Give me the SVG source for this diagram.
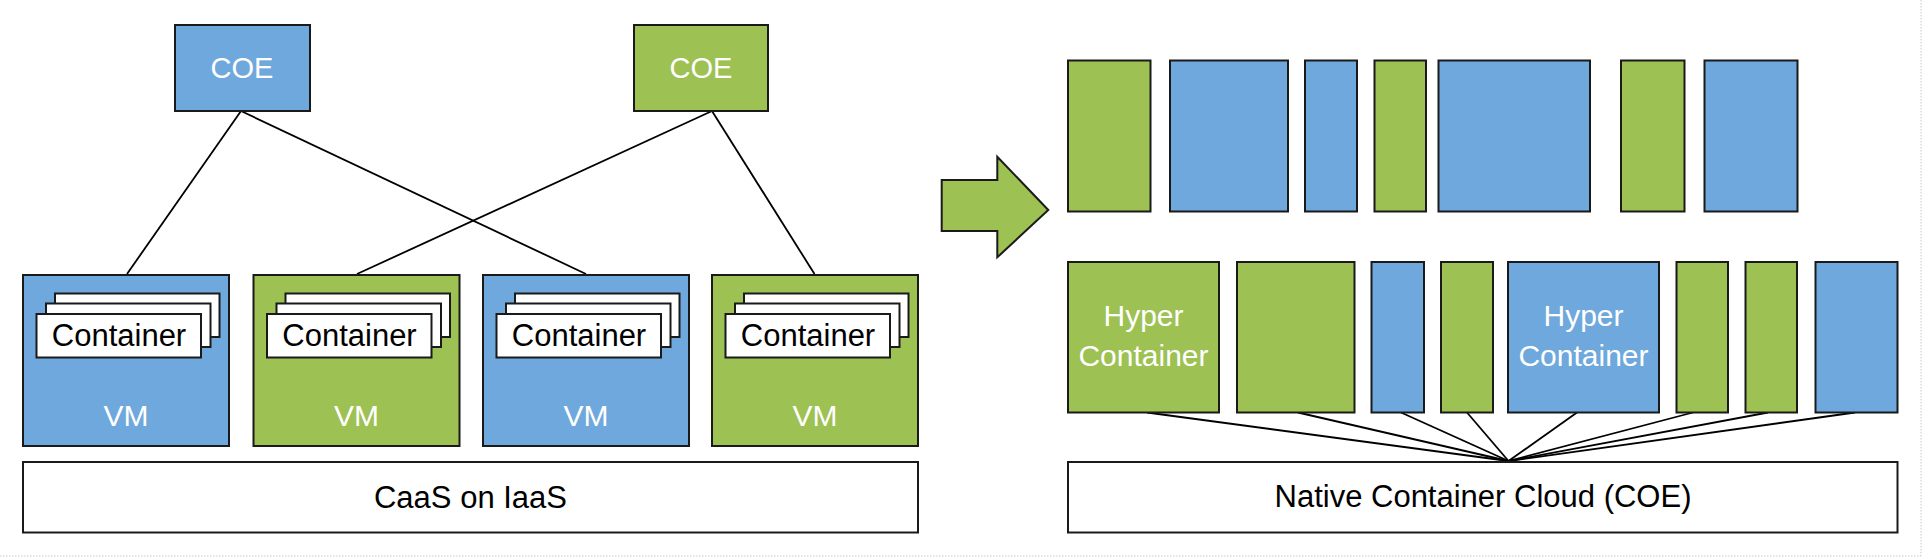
<svg xmlns="http://www.w3.org/2000/svg" width="1922" height="557" viewBox="0 0 1922 557">
<style>
.bl{fill:#6FA8DC;stroke:#1a1a1a;stroke-width:2}
.gr{fill:#9DC153;stroke:#1a1a1a;stroke-width:2}
.wh{fill:#ffffff;stroke:#1a1a1a;stroke-width:2}
.ln{stroke:#000;stroke-width:1.8;fill:none}
text{font-family:"Liberation Sans",Arial,sans-serif;text-anchor:middle}
.tw{fill:#ffffff}
.tb{fill:#000000}
</style>
<rect x="0" y="0" width="1922" height="557" fill="#ffffff"/>
<g id="frame" stroke="#c8c8c8" stroke-width="1" stroke-dasharray="1.5 1.5">
<line x1="0" y1="556" x2="1921" y2="556"/>
<line x1="1921" y1="0" x2="1921" y2="556"/>
</g>
<g id="connectors">
<line class="ln" x1="241" y1="111" x2="127" y2="274"/>
<line class="ln" x1="241" y1="111" x2="586" y2="274"/>
<line class="ln" x1="712" y1="111" x2="357" y2="274"/>
<line class="ln" x1="712" y1="111" x2="814.5" y2="274"/>
<line class="ln" x1="1147" y1="412.5" x2="1508.5" y2="461"/>
<line class="ln" x1="1298" y1="412.5" x2="1508.5" y2="461"/>
<line class="ln" x1="1401" y1="412.5" x2="1508.5" y2="461"/>
<line class="ln" x1="1467" y1="412.5" x2="1508.5" y2="461"/>
<line class="ln" x1="1577" y1="412.5" x2="1508.5" y2="461"/>
<line class="ln" x1="1693" y1="412.5" x2="1508.5" y2="461"/>
<line class="ln" x1="1768" y1="412.5" x2="1508.5" y2="461"/>
<line class="ln" x1="1855" y1="412.5" x2="1508.5" y2="461"/>
</g>
<g id="coe1"><rect class="bl" x="175" y="25" width="135" height="86"/><text class="tw" x="242" y="78" font-size="29">COE</text></g>
<g id="coe2"><rect class="gr" x="634" y="25" width="134" height="86"/><text class="tw" x="701" y="78" font-size="29">COE</text></g>
<g id="vm1">
<rect class="bl" x="23" y="275" width="206" height="171"/>
<rect class="wh" x="55" y="293.5" width="164.5" height="43.5"/>
<rect class="wh" x="46" y="303.5" width="164.5" height="43.5"/>
<rect class="wh" x="36.5" y="314" width="164.5" height="43.5"/>
<text class="tb" x="119" y="345.5" font-size="31">Container</text>
<text class="tw" x="126" y="425.5" font-size="30">VM</text>
</g>
<g id="vm2">
<rect class="gr" x="253.5" y="275" width="206" height="171"/>
<rect class="wh" x="285.5" y="293.5" width="164.5" height="43.5"/>
<rect class="wh" x="276.5" y="303.5" width="164.5" height="43.5"/>
<rect class="wh" x="267" y="314" width="164.5" height="43.5"/>
<text class="tb" x="349.5" y="345.5" font-size="31">Container</text>
<text class="tw" x="356.5" y="425.5" font-size="30">VM</text>
</g>
<g id="vm3">
<rect class="bl" x="483" y="275" width="206" height="171"/>
<rect class="wh" x="515" y="293.5" width="164.5" height="43.5"/>
<rect class="wh" x="506" y="303.5" width="164.5" height="43.5"/>
<rect class="wh" x="496.5" y="314" width="164.5" height="43.5"/>
<text class="tb" x="579" y="345.5" font-size="31">Container</text>
<text class="tw" x="586" y="425.5" font-size="30">VM</text>
</g>
<g id="vm4">
<rect class="gr" x="712" y="275" width="206" height="171"/>
<rect class="wh" x="744" y="293.5" width="164.5" height="43.5"/>
<rect class="wh" x="735" y="303.5" width="164.5" height="43.5"/>
<rect class="wh" x="725.5" y="314" width="164.5" height="43.5"/>
<text class="tb" x="808" y="345.5" font-size="31">Container</text>
<text class="tw" x="815" y="425.5" font-size="30">VM</text>
</g>
<g id="caas"><rect class="wh" x="23" y="462" width="895" height="70.5"/><text class="tb" x="470.5" y="507.5" font-size="31">CaaS on IaaS</text></g>
<g id="arrow"><polygon points="941.7,180 997.3,180 997.3,156.7 1048.3,210 997.3,257.3 997.3,231 941.7,231" fill="#9DC153" stroke="#1a1a1a" stroke-width="2"/></g>
<g id="toprow">
<rect class="gr" x="1068" y="60.5" width="82.5" height="151"/>
<rect class="bl" x="1170" y="60.5" width="118" height="151"/>
<rect class="bl" x="1305" y="60.5" width="52" height="151"/>
<rect class="gr" x="1374.5" y="60.5" width="51.5" height="151"/>
<rect class="bl" x="1438.5" y="60.5" width="151.5" height="151"/>
<rect class="gr" x="1621" y="60.5" width="63.5" height="151"/>
<rect class="bl" x="1704.5" y="60.5" width="93" height="151"/>
</g>
<g id="hc1"><rect class="gr" x="1068" y="262" width="151" height="150.5"/><text class="tw" x="1143.5" y="326" font-size="30">Hyper</text><text class="tw" x="1143.5" y="366" font-size="30">Container</text></g>
<g id="b2"><rect class="gr" x="1237" y="262" width="117.5" height="150.5"/></g>
<g id="b3"><rect class="bl" x="1371.5" y="262" width="52.5" height="150.5"/></g>
<g id="b4"><rect class="gr" x="1441" y="262" width="52" height="150.5"/></g>
<g id="hc2"><rect class="bl" x="1508" y="262" width="151" height="150.5"/><text class="tw" x="1583.5" y="326" font-size="30">Hyper</text><text class="tw" x="1583.5" y="366" font-size="30">Container</text></g>
<g id="b6"><rect class="gr" x="1676.5" y="262" width="51.5" height="150.5"/></g>
<g id="b7"><rect class="gr" x="1745.5" y="262" width="51.5" height="150.5"/></g>
<g id="b8"><rect class="bl" x="1815.5" y="262" width="82" height="150.5"/></g>
<g id="native"><rect class="wh" x="1068" y="462" width="829.5" height="70.5"/><text class="tb" x="1483" y="507" font-size="31">Native Container Cloud (COE)</text></g>
</svg>
